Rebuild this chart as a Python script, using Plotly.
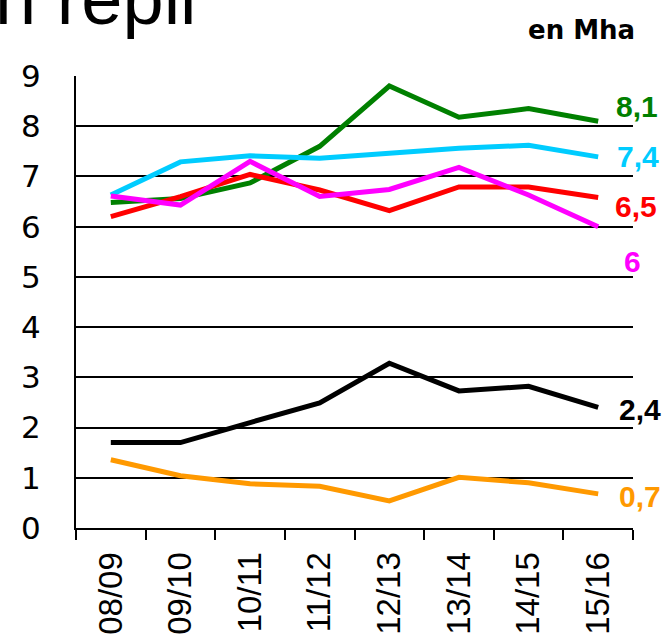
import plotly.graph_objects as go

categories = ["08/09", "09/10", "10/11", "11/12", "12/13", "13/14", "14/15", "15/16"]

green_vals = [6.48, 6.56, 6.87, 7.60, 8.80, 8.18, 8.35, 8.10]
cyan_vals = [6.63, 7.29, 7.41, 7.36, 7.46, 7.56, 7.62, 7.39]
red_vals = [6.20, 6.60, 7.04, 6.73, 6.32, 6.79, 6.79, 6.58]
magenta_vals = [6.61, 6.43, 7.30, 6.60, 6.74, 7.18, 6.63, 6.00]
black_vals = [1.70, 1.70, 2.10, 2.49, 3.28, 2.73, 2.82, 2.40]
orange_vals = [1.36, 1.04, 0.88, 0.83, 0.54, 1.01, 0.90, 0.68]

end_labels = ["8,1", "7,4", "6,5", "6", "2,4", "0,7"]
y_ticks = [0, 1, 2, 3, 4, 5, 6, 7, 8, 9]

series = [
    ("Série 1", green_vals, "#008000"),
    ("Série 2", cyan_vals, "#00CCFF"),
    ("Série 3", red_vals, "#FF0000"),
    ("Série 4", magenta_vals, "#FF00FF"),
    ("Série 5", black_vals, "#000000"),
    ("Série 6", orange_vals, "#FF9900"),
]
# styling: vertical offset (data units) and horizontal paper position of end labels
label_offsets = [0.30, 0.0, -0.18, -0.70, -0.05, -0.05]
label_xpaper = [1.0072, 1.009, 1.0054, 0.9995, 1.012, 1.012]
label_bg = [None, "white", None, None, None, None]

fig = go.Figure()
for name, vals, col in series:
    fig.add_trace(go.Scatter(
        x=categories, y=vals, mode="lines", name=name,
        line=dict(color=col, width=5), showlegend=False,
    ))

annotations = []
for (name, vals, col), lab, off, xp, bg in zip(series, end_labels, label_offsets, label_xpaper, label_bg):
    a = dict(
        x=xp, y=vals[-1] + off, xref="paper", yref="y", text=lab, showarrow=False,
        xanchor="center", yanchor="middle",
        font=dict(family="Liberation Sans", size=30, color=col, weight="bold"),
    )
    if bg:
        a["bgcolor"] = bg
    annotations.append(a)

annotations.append(dict(
    x=-0.1485, y=1.075, xref="paper", yref="paper", text="n repli", showarrow=False,
    xanchor="left", yanchor="bottom",
    font=dict(family="Liberation Sans", size=74, color="black"),
))
annotations.append(dict(
    x=0.9084, y=1.101, xref="paper", yref="paper", text="en Mha", showarrow=False,
    xanchor="center", yanchor="middle",
    font=dict(family="DejaVu Sans", size=26, color="black", weight="bold"),
))

fig.update_layout(
    width=664, height=636,
    margin=dict(l=76, r=31, t=76, b=108),
    paper_bgcolor="white", plot_bgcolor="white",
    annotations=annotations,
)
fig.update_xaxes(
    type="category", range=[-0.5, 7.5], tickson="boundaries",
    ticks="outside", ticklen=10, tickwidth=2, tickcolor="black",
    showline=True, linecolor="black", linewidth=2,
    showgrid=False, tickangle=-90, ticklabelstandoff=9,
    automargin=False,
    tickfont=dict(family="Liberation Sans", size=33, color="black"),
)
fig.update_yaxes(
    range=[0, 9], tickvals=y_ticks, ticktext=[str(v) for v in y_ticks],
    ticks="inside", ticklen=12, tickwidth=2, tickcolor="black",
    showline=True, linecolor="black", linewidth=2,
    showgrid=True, gridcolor="black", gridwidth=1.5, zeroline=False,
    ticklabelstandoff=27, automargin=False,
    tickfont=dict(family="DejaVu Sans", size=31, color="black"),
)

fig.write_html(
    "out.html",
    config={"displayModeBar": False},
    post_script="document.body.style.margin='0';",
)
